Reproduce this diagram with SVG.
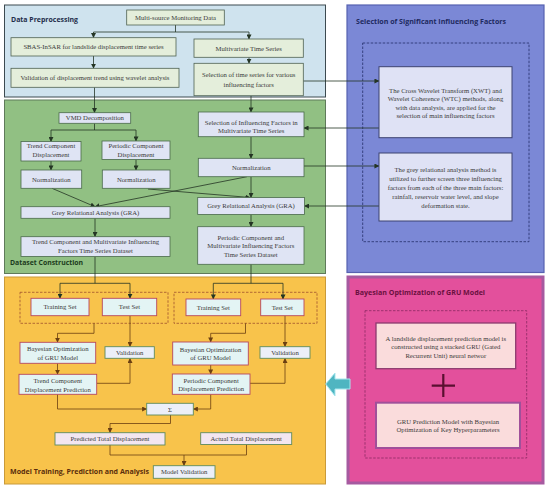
<svg xmlns="http://www.w3.org/2000/svg" width="550" height="491" viewBox="0 0 550 491">
<defs>
<marker id="ad" viewBox="0 0 6 6" refX="5.5" refY="3" markerWidth="5" markerHeight="5" orient="auto" markerUnits="userSpaceOnUse"><path d="M0,0 L6,3 L0,6 z" fill="#243524"/></marker>
<marker id="ab" viewBox="0 0 6 6" refX="5.5" refY="3" markerWidth="5" markerHeight="5" orient="auto" markerUnits="userSpaceOnUse"><path d="M0,0 L6,3 L0,6 z" fill="#6b3f12"/></marker>
</defs>
<style>
text{font-family:"Liberation Serif","Times New Roman",serif;font-size:6.7px;fill:#3a3a3a;text-anchor:middle}
.title{font-family:"Open Sans","Liberation Sans",sans-serif;font-weight:bold;font-size:7px;text-anchor:start}
.bp{fill:#e4eedb;stroke:#4f6152;stroke-width:0.8}
.bg{fill:#dfe4f4;stroke:#4a6a4a;stroke-width:0.8}
.bpu{fill:#dfe2f5;stroke:#3c4370;stroke-width:1}
.bpk{fill:#fadcdc;stroke:#8c3a6e;stroke-width:1.3}
.br{fill:#e3f4f4;stroke:#b5475f;stroke-width:0.9}
.bgr{fill:#eceff8;stroke:#5e8a5c;stroke-width:0.9}
.bgp{fill:#f3e6f0;stroke:#5e8a5c;stroke-width:0.9}
.cd{fill:none;stroke:#243524;stroke-width:0.8}
.cb{fill:none;stroke:#6b3f12;stroke-width:0.8}
</style>

<!-- panels -->
<g id="panels">
<rect x="4.5" y="5" width="321" height="92" fill="#cfe3ee" stroke="#3c4a50" stroke-width="1"/>
<rect x="4.5" y="100" width="321" height="173.5" fill="#91c083" stroke="#5f7a5a" stroke-width="1"/>
<rect x="4.5" y="277" width="321" height="207" fill="#f8c34b" stroke="#c99a3a" stroke-width="1"/>
<rect x="347" y="5" width="197" height="267.5" fill="#7b88d6" stroke="#5662b0" stroke-width="1.2"/>
<rect x="348" y="277" width="195" height="206" fill="#e3509c" stroke="#a65aa0" stroke-width="3"/>
<rect x="362.7" y="43" width="166.3" height="198.7" fill="none" stroke="#252e6a" stroke-width="0.8" stroke-dasharray="2.5,1.5"/>
<rect x="365" y="310.7" width="161.7" height="147.3" fill="none" stroke="#8a2a62" stroke-width="0.8" stroke-dasharray="2.5,1.5"/>
<rect x="20" y="292.3" width="148" height="31" fill="none" stroke="#a0522d" stroke-width="0.8" stroke-dasharray="2.5,1.5"/>
<rect x="174" y="292.3" width="143" height="31" fill="none" stroke="#a0522d" stroke-width="0.8" stroke-dasharray="2.5,1.5"/>
<text class="title" x="11" y="21.5" fill="#1e2d4a" style="fill:#1e2d4a" textLength="67" lengthAdjust="spacingAndGlyphs">Data Preprocessing</text>
<text class="title" x="10" y="264.5" style="fill:#1b3a1b" textLength="73" lengthAdjust="spacingAndGlyphs">Dataset Construction</text>
<text class="title" x="10" y="473.5" style="fill:#5a2d0c" textLength="139" lengthAdjust="spacingAndGlyphs">Model Training, Prediction and Analysis</text>
<text class="title" x="356" y="23.5" style="fill:#1e2a60" textLength="150" lengthAdjust="spacingAndGlyphs">Selection of Significant Influencing Factors</text>
<text class="title" x="355" y="295" style="fill:#6a1040" textLength="130" lengthAdjust="spacingAndGlyphs">Bayesian Optimization of GRU Model</text>
</g>

<!-- connectors -->
<g id="connectors">
<path class="cd" d="M175.5 25 V32 M93.5 32 H249"/>
<path class="cd" d="M93.5 32 V37.7" marker-end="url(#ad)"/>
<path class="cd" d="M249 32 V39" marker-end="url(#ad)"/>
<path class="cd" d="M93.5 56 V68.3" marker-end="url(#ad)"/>
<path class="cd" d="M249 57.3 V63.3" marker-end="url(#ad)"/>
<path class="cd" d="M303.3 81 H379" marker-end="url(#ad)"/>
<path class="cd" d="M379 128 H304" marker-end="url(#ad)"/>
<path class="cd" d="M94.5 87.3 V112.7" marker-end="url(#ad)"/>
<path class="cd" d="M251 95.7 V112" marker-end="url(#ad)"/>
<path class="cd" d="M94.5 123.3 V130 M51 130 H136"/>
<path class="cd" d="M51 130 V141.5" marker-end="url(#ad)"/>
<path class="cd" d="M136 130 V141" marker-end="url(#ad)"/>
<path class="cd" d="M51 161 V170" marker-end="url(#ad)"/>
<path class="cd" d="M136 159.5 V170" marker-end="url(#ad)"/>
<path class="cd" d="M251 136.7 V158.3" marker-end="url(#ad)"/>
<path class="cd" d="M304 166 H379" marker-end="url(#ad)"/>
<path class="cd" d="M379 206 H304.5" marker-end="url(#ad)"/>
<path class="cd" d="M52 188.3 L95 206.7" marker-end="url(#ad)"/>
<path class="cd" d="M247 176.7 L95 206.7" marker-end="url(#ad)"/>
<path class="cd" d="M148 189 L250 197.5" marker-end="url(#ad)"/>
<path class="cd" d="M251 176.7 V197.5" marker-end="url(#ad)"/>
<path class="cd" d="M95 218.3 V236.7" marker-end="url(#ad)"/>
<path class="cd" d="M251 214.5 V226.7" marker-end="url(#ad)"/>
<path class="cd" d="M95 256.7 V283.3 M60 283.3 H130"/>
<path class="cd" d="M60 283.3 V298.3" marker-end="url(#ad)"/>
<path class="cd" d="M130 283.3 V298.3" marker-end="url(#ad)"/>
<path class="cd" d="M251 264.3 V283.3 M213.3 283.3 H283"/>
<path class="cd" d="M213.3 283.3 V299" marker-end="url(#ad)"/>
<path class="cd" d="M283 283.3 V299" marker-end="url(#ad)"/>
<path class="cb" d="M94 323.3 V333.3 H57.5 V342.3" marker-end="url(#ab)"/>
<path class="cb" d="M130 315.7 V346.7" marker-end="url(#ab)"/>
<path class="cb" d="M245.5 323.3 V333.3 H210.7 V342" marker-end="url(#ab)"/>
<path class="cb" d="M285 315.7 V346.7" marker-end="url(#ab)"/>
<path class="cb" d="M57.5 363.3 V374.3" marker-end="url(#ab)"/>
<path class="cb" d="M210.7 365 V374" marker-end="url(#ab)"/>
<path class="cb" d="M96.7 383.3 H130 V358.3" marker-end="url(#ab)"/>
<path class="cb" d="M250 383.3 H285 V358.3" marker-end="url(#ab)"/>
<path class="cb" d="M57.5 394.3 V409 H146.7" marker-end="url(#ab)"/>
<path class="cb" d="M210.7 394.3 V409 H193.3" marker-end="url(#ab)"/>
<path class="cb" d="M170.5 415 V423.5 H110 V432.7" marker-end="url(#ab)"/>
<path class="cb" d="M110 445 V455 H246.5 M246.5 444.5 V455"/>
<path class="cb" d="M184 455 V465.7" marker-end="url(#ab)"/>
<polygon points="325.7,384 335,373 335,379 350,379 350,389 335,389 335,396" fill="#4fb5c1" stroke="#a6e6ee" stroke-width="1"/>
</g>

<!-- Data preprocessing nodes -->
<g id="n-multisource"><rect class="bp" x="126.7" y="10" width="97.6" height="15"/><text x="175.5" y="19.8">Multi-source Monitoring Data</text></g>
<g id="n-sbas"><rect class="bp" x="11" y="37.7" width="165" height="18.3"/><text x="93.5" y="49.2">SBAS-InSAR for landslide displacement time series</text></g>
<g id="n-multivariate"><rect class="bp" x="194" y="39" width="109.3" height="18.3"/><text x="248.7" y="50.5">Multivariate Time Series</text></g>
<g id="n-validation-trend"><rect class="bp" x="11" y="68.3" width="168" height="19"/><text x="95" y="80.1">Validation of displacement trend using wavelet analysis</text></g>
<g id="n-selection-ts"><rect class="bp" x="194" y="63.3" width="109.3" height="32.4"/><text x="248.7" y="77.3">Selection of time series for various</text><text x="248.7" y="86.6">influencing factors</text></g>

<!-- Dataset construction nodes -->
<g id="n-vmd"><rect class="bg" x="59" y="112.7" width="71.7" height="10.6"/><text x="94.9" y="120.3">VMD Decomposition</text></g>
<g id="n-trend"><rect class="bg" x="21" y="141.5" width="60" height="19.5"/><text x="51" y="148.1">Trend Component</text><text x="51" y="156.6">Displacement</text></g>
<g id="n-periodic"><rect class="bg" x="102" y="141" width="68" height="18.5"/><text x="136" y="148.1">Periodic Component</text><text x="136" y="156.6">Displacement</text></g>
<g id="n-norm1"><rect class="bg" x="21" y="170" width="60.7" height="18.3"/><text x="51.3" y="181.5">Normalization</text></g>
<g id="n-norm2"><rect class="bg" x="102.3" y="170" width="67.7" height="18.3"/><text x="136.2" y="181.5">Normalization</text></g>
<g id="n-selection-if"><rect class="bg" x="198.3" y="112" width="105.7" height="24.7"/><text x="251.2" y="124.6">Selection of Influencing Factors in</text><text x="251.2" y="133.3">Multivariate Time Series</text></g>
<g id="n-norm3"><rect class="bg" x="198.3" y="158.3" width="105.7" height="18.4"/><text x="251.2" y="169.8">Normalization</text></g>
<g id="n-gra1"><rect class="bg" x="21" y="206.7" width="149" height="11.6"/><text x="95.5" y="214.8">Grey Relational Analysis (GRA)</text></g>
<g id="n-gra2"><rect class="bg" x="197.7" y="197.5" width="106.8" height="17"/><text x="251" y="208.3">Grey Relational Analysis (GRA)</text></g>
<g id="n-trend-dataset"><rect class="bg" x="21" y="236.7" width="149" height="19.8"/><text x="95.5" y="244">Trend Component and Multivariate Influencing</text><text x="95.5" y="252.6">Factors Time Series Dataset</text></g>
<g id="n-periodic-dataset"><rect class="bg" x="197.7" y="226.7" width="106.3" height="37.6"/><text x="250.8" y="240">Periodic Component and</text><text x="250.8" y="248.3">Multivariate Influencing Factors</text><text x="250.8" y="256.6">Time Series Dataset</text></g>

<!-- Model training nodes -->
<g id="n-train1"><rect class="br" x="31" y="298.3" width="58" height="17.4"/><text x="60" y="309.3">Training Set</text></g>
<g id="n-test1"><rect class="br" x="102.3" y="298.3" width="54.4" height="17.4"/><text x="129.5" y="309.3">Test Set</text></g>
<g id="n-train2"><rect class="br" x="186" y="299" width="54.7" height="16.7"/><text x="213.3" y="309.6">Training Set</text></g>
<g id="n-test2"><rect class="br" x="260.7" y="299" width="43.3" height="16.7"/><text x="282.3" y="309.6">Test Set</text></g>
<g id="n-bayes1"><rect class="br" x="20" y="342.3" width="75.7" height="21"/><text x="57.8" y="351.3">Bayesian Optimization</text><text x="57.8" y="360">of GRU Model</text></g>
<g id="n-val1"><rect class="bgr" x="105" y="346.7" width="49.3" height="11.6"/><text x="129.7" y="354.8">Validation</text></g>
<g id="n-bayes2"><rect class="br" x="172.7" y="342" width="75.6" height="23"/><text x="210.5" y="351.6">Bayesian Optimization</text><text x="210.5" y="360.2">of GRU Model</text></g>
<g id="n-val2"><rect class="bgr" x="260" y="346.7" width="50" height="11.6"/><text x="285" y="354.8">Validation</text></g>
<g id="n-trend-pred"><rect class="br" x="19" y="374.3" width="77.7" height="20"/><text x="57.8" y="383">Trend Component</text><text x="57.8" y="391.6">Displacement Prediction</text></g>
<g id="n-periodic-pred"><rect class="br" x="172.3" y="374" width="77.7" height="20.3"/><text x="211.2" y="382.6">Periodic Component</text><text x="211.2" y="391.4">Displacement Prediction</text></g>
<g id="n-sum"><rect class="bgr" x="146.7" y="403.3" width="46.6" height="11.7"/><text x="170" y="411.6">Σ</text></g>
<g id="n-predicted"><rect class="bgp" x="55" y="432.7" width="110" height="12.3"/><text x="110" y="441.1">Predicted Total Displacement</text></g>
<g id="n-actual"><rect class="bgp" x="200.7" y="432.7" width="91" height="11.8"/><text x="246.2" y="441">Actual Total Displacement</text></g>
<g id="n-model-val"><rect class="bgr" x="153.3" y="465.7" width="61.7" height="12.6"/><text x="184.2" y="474.3">Model Validation</text></g>

<!-- Selection of significant factors nodes -->
<g id="n-xwt"><rect class="bpu" x="379" y="66.7" width="133" height="71"/><text x="445.5" y="93">The Cross Wavelet Transform (XWT) and</text><text x="445.5" y="101.4">Wavelet Coherence (WTC) methods, along</text><text x="445.5" y="109.8">with data analysis, are applied for the</text><text x="445.5" y="118.3">selection of main influencing factors</text></g>
<g id="n-grey"><rect class="bpu" x="379" y="153" width="133" height="68"/><text x="445.5" y="171.6">The grey relational analysis method is</text><text x="445.5" y="180.6">utilized to further screen three influencing</text><text x="445.5" y="189.8">factors from each of the three main factors:</text><text x="445.5" y="198.8">rainfall, reservoir water level, and slope</text><text x="445.5" y="207.6">deformation state.</text></g>

<!-- Bayesian nodes -->
<g id="n-landslide"><rect class="bpk" x="376" y="323" width="139.7" height="45.7"/><text x="445.8" y="340.6">A landslide displacement prediction model is</text><text x="445.8" y="349.3">constructed using a stacked GRU (Gated</text><text x="445.8" y="358">Recurrent Unit) neural networ</text></g>
<g id="n-plus"><path d="M431.7 385.7 H455 M443.3 374 V397" stroke="#5a0f30" stroke-width="2.2" fill="none"/></g>
<g id="n-gru"><rect class="bpk" x="376" y="402.7" width="144" height="45.3" style="stroke:#a0509a;stroke-width:2"/><text x="448" y="424">GRU Prediction Model with Bayesian</text><text x="448" y="432.3">Optimization of Key Hyperparameters</text></g>
</svg>
